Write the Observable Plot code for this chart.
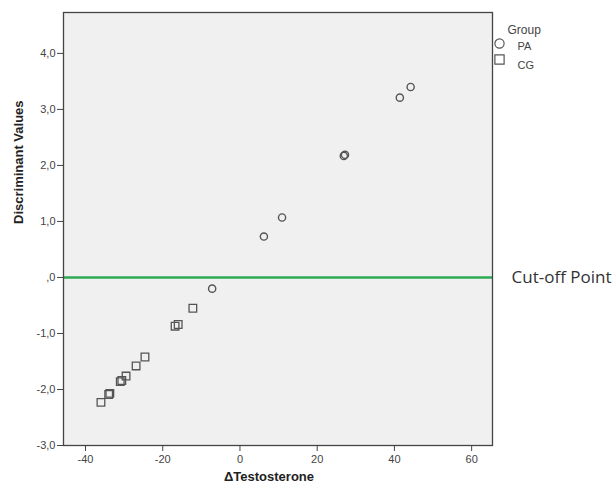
<!DOCTYPE html>
<html>
<head>
<meta charset="utf-8">
<script src="https://cdn.jsdelivr.net/npm/d3@7"></script>
<script src="https://cdn.jsdelivr.net/npm/@observablehq/plot@0.6"></script>
<style>
  html, body { margin: 0; padding: 0; background: #ffffff; }
  #chart svg { display: block; }
</style>
</head>
<body>
<div id="chart"></div>
<script>
// Data
const paTestosterone = [-7.2, 6.2, 10.9, 26.9, 27.2, 41.4, 44.2];
const paDiscriminant = [-0.20, 0.73, 1.07, 2.17, 2.19, 3.21, 3.40];
const cgTestosterone = [-36.0, -34.0, -33.7, -31.0, -30.6, -29.5, -26.9, -24.6, -16.8, -16.0, -12.2];
const cgDiscriminant = [-2.23, -2.09, -2.07, -1.86, -1.84, -1.76, -1.58, -1.42, -0.87, -0.84, -0.55];
const groups = ["PA", "CG"];
const cutOff = [0];
const xTicks = [-40, -20, 0, 20, 40, 60];
const yTicks = [-3, -2, -1, 0, 1, 2, 3, 4];

const pa = paTestosterone.map((x, i) => ({x, y: paDiscriminant[i], group: groups[0]}));
const cg = cgTestosterone.map((x, i) => ({x, y: cgDiscriminant[i], group: groups[1]}));

const fmtY = d => d === 0 ? ",0" : d.toFixed(1).replace(".", ",");
const fmtX = d => String(d);
const ink = "#555555";

const chart = Plot.plot({
  width: 616,
  height: 489,
  marginLeft: 63,
  marginRight: 124,
  marginTop: 12,
  marginBottom: 44,
  style: {fontFamily: "'Liberation Sans', Arial, sans-serif", fontSize: "11px", color: "#444", background: "#ffffff"},
  x: {domain: [-45.7, 65.4]},
  y: {domain: [-3, 4.73]},
  marks: [
    Plot.frame({fill: "#f0f0f0", stroke: "none"}),
    Plot.axisX({ticks: xTicks, tickFormat: fmtX, tickSize: 6, tickPadding: 4, stroke: "#444", fill: "#444", label: null}),
    Plot.axisY({ticks: yTicks, tickFormat: fmtY, tickSize: 6, tickPadding: 2, stroke: "#444", fill: "#444", label: null}),
    Plot.ruleY(cutOff, {stroke: "#2eaa55", strokeWidth: 2.5}),
    Plot.frame({stroke: "#444", strokeWidth: 1.3}),
    Plot.dot(cg, {x: "x", y: "y", symbol: "square", r: 4.3, stroke: ink, strokeWidth: 1.3, fill: "none"}),
    Plot.dot(pa, {x: "x", y: "y", symbol: "circle", r: 3.6, stroke: ink, strokeWidth: 1.4, fill: "none"}),
    Plot.text(cutOff, {y: d => d, text: () => "Cut-off Point", frameAnchor: "right", dx: 19, textAnchor: "start",
      fontFamily: "'Open Sans', sans-serif", fontSize: 17, fill: "#333"}),
    // axis titles
    Plot.text(["Discriminant Values"], {frameAnchor: "left", dx: -45, dy: -5, rotate: -90, fontWeight: "bold", fontSize: 13, fill: "#222"}),
    Plot.text(["ΔTestosterone"], {frameAnchor: "bottom", dy: 35, dx: -9, fontWeight: "bold", fontSize: 13, fill: "#222"}),
    // legend
    Plot.text(["Group"], {frameAnchor: "top-right", dx: 15, dy: 13, textAnchor: "start", fontSize: 12, fill: "#444"}),
    Plot.dot([groups[0]], {frameAnchor: "top-right", dx: 7, dy: 31, symbol: "circle", r: 4.6, stroke: ink, strokeWidth: 1.2, fill: "none"}),
    Plot.text([groups[0]], {frameAnchor: "top-right", dx: 25, dy: 30, textAnchor: "start", fontSize: 11, fill: "#444", text: d => d}),
    Plot.dot([groups[1]], {frameAnchor: "top-right", dx: 7, dy: 47, symbol: "square", r: 5.2, stroke: ink, strokeWidth: 1.2, fill: "none"}),
    Plot.text([groups[1]], {frameAnchor: "top-right", dx: 25, dy: 49, textAnchor: "start", fontSize: 11, fill: "#444", text: d => d})
  ]
});
document.getElementById("chart").appendChild(chart);
</script>
</body>
</html>
